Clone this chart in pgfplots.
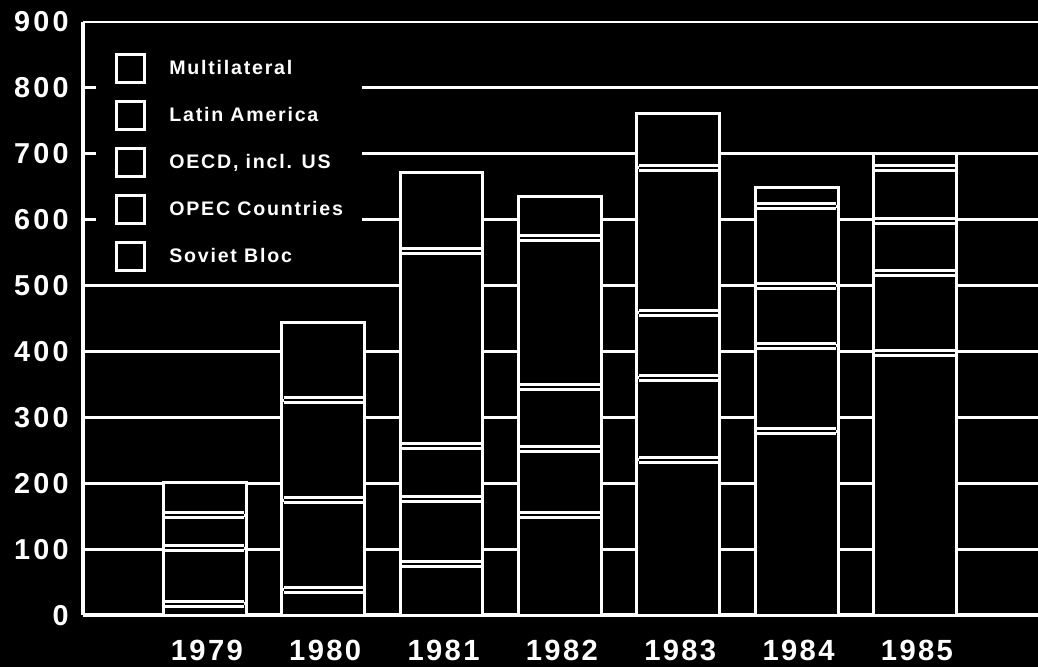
\documentclass[border=0pt]{standalone}
\usepackage{pgfplots}
\usepackage{pgfplotstable}
\pgfplotsset{compat=1.18}
\usepackage{fontspec}
\setmainfont{Liberation Sans}
\newfontfamily\yfont[LetterSpace=11]{Liberation Sans}
\newfontfamily\xfont[LetterSpace=8]{Liberation Sans}
\newfontfamily\legfont[LetterSpace=9]{Liberation Sans}

\pgfplotstableread{
x soviet opec oecd latam multi
0 18 84 50 50 0
1 39 136 151 118 0
2 78 99 80 295 119
3 152 100 95 225 63
4 236 124 99 220 82
5 279 130 91 120 29
6 398 121 79 80 22
}\datatable

\pgfplotstableread{
x y
0 18
0 102
0 152
1 39
1 175
1 326
2 78
2 177
2 257
2 552
3 152
3 252
3 347
3 572
4 236
4 360
4 459
4 679
5 279
5 409
5 500
5 620
6 398
6 519
6 598
6 678
}\boundtable

\begin{document}
\begin{tikzpicture}
\fill[black] (0,0) rectangle (519pt,333.5pt);
\begin{axis}[
  at={(41.5pt,25.75pt)}, anchor=south west,
  scale only axis, width=477.5pt, height=296.9pt,
  xmin=-1.03, xmax=7.04, ymin=0, ymax=900,
  ybar stacked, bar width=0.70,
  axis x line*=bottom, axis y line*=left,
  axis line style={white, line width=2pt, -},
  major tick length=0pt,
  xtick={0,1,2,3,4,5,6},
  xticklabels={1979,1980,1981,1982,1983,1984,1985},
  ytick={0,100,200,300,400,500,600,700,800},
  extra y ticks={900},
  extra y tick style={grid style={white, line width=2pt}},
  ymajorgrids,
  major grid style={white, line width=1.2pt},
  /pgf/number format/assume math mode=true,
  yticklabel style={font=\yfont\bfseries\fontsize{14.4}{15}\selectfont, text=white, inner sep=0pt, anchor=east, xshift=-7pt},
  xticklabel style={font=\xfont\bfseries\fontsize{14.6}{15}\selectfont, text=white, inner sep=0pt, anchor=north, yshift=-12.2pt, xshift=1pt},
  legend cell align=left,
  reverse legend,
  legend image code/.code={\draw[white, line width=1.5pt, fill=black] (0pt,-7pt) rectangle (14pt,7pt);},
  legend style={at={(rel axis cs:0.0136,0.9675)}, anchor=north west,
    fill=black, draw=none, text=white, font=\legfont\bfseries\fontsize{9.8}{11}\selectfont,
    inner xsep=9.5pt, inner ysep=6pt, row sep=8pt, column sep=11.5pt,
    nodes={inner sep=0pt}},
]
\addplot[fill=black, draw=white, line width=1.5pt] table[x=x, y=soviet] {\datatable};
\addlegendentry{Soviet Bloc}
\addplot[fill=black, draw=white, line width=1.5pt] table[x=x, y=opec] {\datatable};
\addlegendentry{OPEC Countries}
\addplot[fill=black, draw=white, line width=1.5pt] table[x=x, y=oecd] {\datatable};
\addlegendentry{OECD, incl. US}
\addplot[fill=black, draw=white, line width=1.5pt] table[x=x, y=latam] {\datatable};
\addlegendentry{Latin America}
\addplot[fill=black, draw=white, line width=1.5pt] table[x=x, y=multi] {\datatable};
\addlegendentry{Multilateral}
\end{axis}
\begin{axis}[
  at={(41.5pt,25.75pt)}, anchor=south west,
  scale only axis, width=477.5pt, height=296.9pt,
  xmin=-1.03, xmax=7.04, ymin=0, ymax=900,
  axis lines=none, ticks=none,
]
\addplot[only marks, mark=-, mark size=19.8pt, mark options={draw=white, line width=4pt}] table[x=x, y=y] {\boundtable};
\addplot[only marks, mark=-, mark size=19.8pt, mark options={draw=black, line width=1pt}] table[x=x, y=y] {\boundtable};
\end{axis}
\pgfresetboundingbox
\useasboundingbox (0,0) rectangle (519pt,333.5pt);
\end{tikzpicture}
\end{document}
